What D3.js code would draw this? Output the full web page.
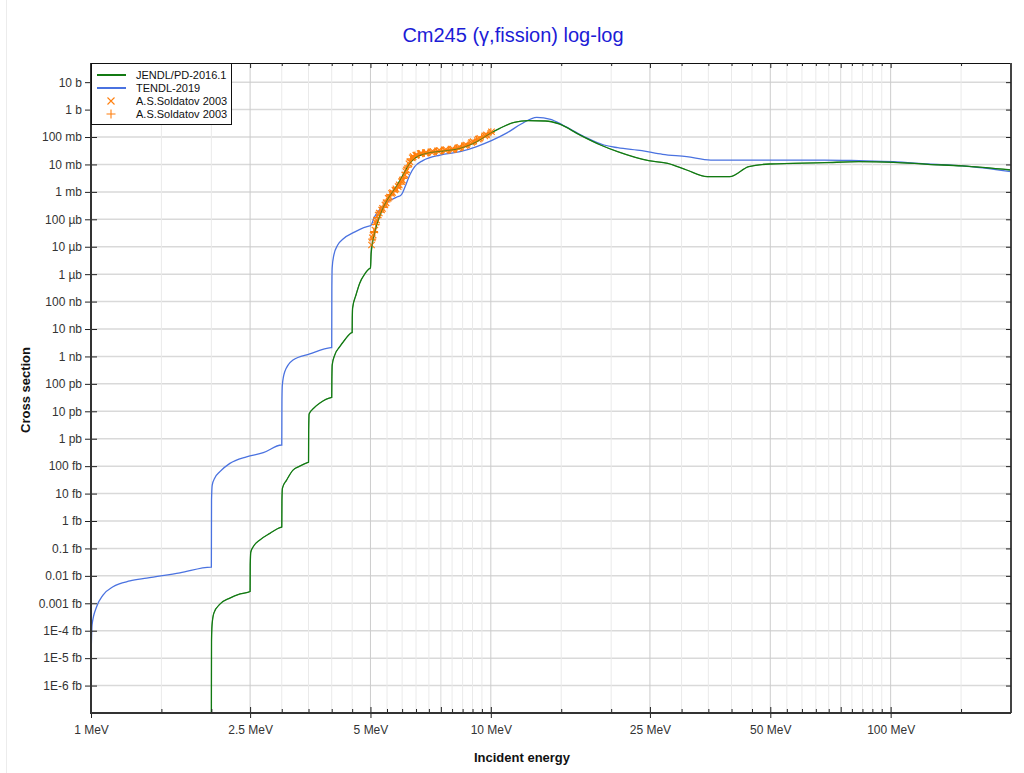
<!DOCTYPE html>
<html><head><meta charset="utf-8">
<script src="https://cdn.jsdelivr.net/npm/d3@7"></script>
<style>
body{margin:0;background:#fff}
svg{display:block;font-family:"Liberation Sans",Arial,Helvetica,sans-serif}
</style>
</head><body>
<svg id="chart" width="1024" height="773"></svg>
<script>
// ---------- data (energy in MeV, cross section in barns) ----------
const jendlE = [2.0, 2.0005, 2.002, 2.008, 2.03, 2.101, 2.225, 2.36, 2.5,
  2.502, 2.51, 2.545, 2.645, 2.802, 2.984, 3.0,
  3.003, 3.012, 3.085, 3.2, 3.327, 3.49, 3.5,
  3.503, 3.512, 3.61, 3.737, 3.981, 4.0,
  4.003, 4.012, 4.07, 4.19, 4.31, 4.48, 4.5,
  4.503, 4.512, 4.6, 4.7, 4.84, 4.98, 5.0,
  5.02, 5.12, 5.265, 5.42, 5.57, 5.8, 6.03, 6.27, 6.45, 6.91, 7.6, 8.38, 9.22, 10.0,
  10.53, 11.45, 12.4, 13.69, 14.82, 16.69, 18.81, 20.76, 24.83, 27.69, 30.89,
  34.8, 39.58, 44.16, 49.77, 68.3, 83.3, 101.6, 124, 151.2, 200];
const jendlXS = [1e-24, 2.95e-22, 4.57e-20, 1.62e-19, 4.47e-19, 9.3e-19, 1.55e-18, 2.19e-18, 2.69e-18,
  2.5e-17, 7.4e-17, 1.15e-16, 2.04e-16, 3.55e-16, 5.9e-16, 6.0e-16,
  5.9e-15, 1.58e-14, 3.1e-14, 7.2e-14, 1.0e-13, 1.38e-13, 1.4e-13,
  2.09e-12, 7.9e-12, 1.32e-11, 2.0e-11, 3.16e-11, 3.2e-11,
  1.38e-10, 4.9e-10, 1.12e-9, 2.26e-9, 3.98e-9, 7.3e-9, 7.4e-9,
  2.5e-8, 5.9e-8, 1.74e-7, 4.7e-7, 1.02e-6, 1.62e-6, 1.66e-6,
  5.75e-6, 3.1e-5, 1.245e-4, 3.33e-4, 6.67e-4, 1.55e-3, 4.12e-3, 1.1e-2, 1.67e-2, 2.55e-2, 3.09e-2, 3.88e-2, 6.76e-2, 0.14,
  0.208, 0.344, 0.394, 0.384, 0.299, 0.119, 0.0512, 0.0292, 0.0137, 0.011, 0.00628,
  0.00357, 0.00357, 0.00828, 0.0104, 0.0116, 0.0126, 0.012, 0.0101, 0.0088, 0.00628];

const tendlE = [1.0, 1.006, 1.0334, 1.0715, 1.135, 1.2515, 1.378, 1.669, 1.995, 2.0,
  2.002, 2.01, 2.04, 2.101, 2.225, 2.449, 2.697, 2.997, 3.0,
  3.003, 3.01, 3.05, 3.2, 3.525, 3.98, 4.0,
  4.003, 4.01, 4.05, 4.14, 4.27, 4.57, 4.98, 5.0,
  5.12, 5.265, 5.53, 5.8, 5.97, 6.15, 6.27, 6.45, 6.76, 7.47, 8.38, 9.22, 10.0,
  11.0, 11.91, 13.03, 14.11, 15.12, 17.02, 19.18, 20.76, 23.87, 26.89, 30.89, 35.48,
  45.9, 68.3, 83.3, 101.6, 124, 151.2, 200];
const tendlXS = [8.5e-21, 1.62e-19, 7.6e-19, 2.0e-18, 4.0e-18, 6.5e-18, 8.3e-18, 1.29e-17, 2.1e-17, 2.1e-17,
  5.9e-15, 2.04e-14, 3.7e-14, 6.3e-14, 1.26e-13, 2.19e-13, 3.1e-13, 5.9e-13, 5.9e-13,
  2.57e-11, 9.1e-11, 2.69e-10, 7.4e-10, 1.23e-9, 2.09e-9, 2.1e-9,
  2.63e-7, 1.66e-6, 5.0e-6, 1.15e-5, 1.9e-5, 3.47e-5, 5.75e-5, 5.8e-5,
  1.245e-4, 2.19e-4, 4.37e-4, 6.3e-4, 7.8e-4, 2.04e-3, 4.12e-3, 8.3e-3, 1.38e-2, 2.21e-2, 2.92e-2, 4.5e-2, 7.2e-2,
  0.144, 0.299, 0.524, 0.443, 0.274, 0.109, 0.0512, 0.0408, 0.0317, 0.0234, 0.0192, 0.0145,
  0.0145, 0.0145, 0.0137, 0.0126, 0.0104, 0.0088, 0.00545];

const sold1E = [5.031, 5.078, 5.129, 5.179, 5.227, 5.331, 5.433, 5.537, 5.646, 5.754, 5.865, 5.981,
  6.095, 6.155, 6.273, 6.394, 6.52, 6.711, 6.907, 7.174, 7.457, 7.751, 8.051, 8.366, 8.695, 9.032, 9.386, 9.755, 10.04,
  5.055, 5.16, 5.26, 5.36, 5.47, 5.58, 5.68, 5.79, 5.90, 6.01, 6.13, 6.24, 6.36, 6.49, 6.66, 6.86, 7.1,
  7.38, 7.68, 7.98, 8.29, 8.61, 8.95, 9.3, 9.66];
const sold1XS = [1.16e-5, 2.68e-5, 4.07e-5, 9.4e-5, 1.44e-4, 2.18e-4, 3.33e-4, 5.83e-4, 8.87e-4, 1.17e-3, 1.55e-3, 2.35e-3,
  4.12e-3, 6.28e-3, 1.26e-2, 1.92e-2, 2.21e-2, 2.55e-2, 2.68e-2, 2.92e-2, 3.17e-2, 3.37e-2, 3.56e-2, 4.22e-2, 5.12e-2, 6.76e-2, 9.0e-2, 0.119, 0.156,
  2.1e-5, 7.8e-5, 1.7e-4, 2.5e-4, 4.0e-4, 6.5e-4, 9.5e-4, 1.3e-3, 1.8e-3, 2.7e-3, 5.5e-3, 1.05e-2, 1.75e-2, 2.15e-2, 2.5e-2, 2.65e-2, 2.85e-2,
  3.1e-2, 3.32e-2, 3.52e-2, 4.0e-2, 4.9e-2, 6.3e-2, 8.4e-2, 0.11];
const sold2E = [5.05, 5.10, 5.15, 5.20, 5.28, 5.38, 5.48, 5.59, 5.70, 5.81, 5.92, 6.04, 6.12, 6.21,
  6.33, 6.46, 6.61, 6.81, 7.04, 7.31, 7.60, 7.90, 8.21, 8.53, 8.86, 9.21, 9.57, 9.90,
  5.105, 5.30, 5.40, 5.51, 5.62, 5.72, 5.84, 5.95, 6.06, 6.19, 6.30, 6.43, 6.58, 6.76, 6.97, 7.24,
  7.53, 7.83, 8.13, 8.45, 8.78, 9.12, 9.48, 9.84, 10.0];
const sold2XS = [1.9e-5, 3.3e-5, 6.5e-5, 1.15e-4, 1.8e-4, 2.7e-4, 4.3e-4, 7.2e-4, 1.02e-3, 1.35e-3, 1.9e-3, 3.1e-3, 5.2e-3, 9.0e-3,
  1.6e-2, 2.1e-2, 2.4e-2, 2.6e-2, 2.8e-2, 3.05e-2, 3.27e-2, 3.46e-2, 3.85e-2, 4.65e-2, 5.9e-2, 7.8e-2, 0.104, 0.137,
  3.6e-5, 2.0e-4, 3.0e-4, 5.0e-4, 8.0e-4, 1.08e-3, 1.45e-3, 2.1e-3, 3.5e-3, 8.0e-3, 1.45e-2, 2.0e-2, 2.35e-2, 2.58e-2, 2.72e-2, 2.98e-2,
  3.22e-2, 3.42e-2, 3.7e-2, 4.4e-2, 5.5e-2, 7.2e-2, 9.6e-2, 0.128, 0.148];

const xMajor = [1, 2.5, 5, 10, 25, 50, 100];
const xMajorLabels = ["1 MeV", "2.5 MeV", "5 MeV", "10 MeV", "25 MeV", "50 MeV", "100 MeV"];
const xMid = [7.5, 75];
const xMinor = [1.5, 2, 3, 3.5, 4, 4.5, 5.5, 6, 6.5, 7, 8, 8.5, 9, 9.5, 15, 20, 30, 35, 40, 45,
  55, 60, 65, 70, 80, 85, 90, 95, 150];
const yTicks = [1e-21, 1e-20, 1e-19, 1e-18, 1e-17, 1e-16, 1e-15, 1e-14, 1e-13, 1e-12, 1e-11, 1e-10,
  1e-9, 1e-8, 1e-7, 1e-6, 1e-5, 1e-4, 1e-3, 1e-2, 1e-1, 1, 10];
const yTickLabels = ["1E-6 fb", "1E-5 fb", "1E-4 fb", "0.001 fb", "0.01 fb", "0.1 fb", "1 fb", "10 fb", "100 fb",
  "1 pb", "10 pb", "100 pb", "1 nb", "10 nb", "100 nb", "1 µb", "10 µb", "100 µb", "1 mb", "10 mb", "100 mb", "1 b", "10 b"];

const seriesNames = ["JENDL/PD-2016.1", "TENDL-2019", "A.S.Soldatov 2003", "A.S.Soldatov 2003"];
const seriesColors = ["#137a13", "#4a72e0", "#ff7f0e", "#ff7f0e"];

// ---------- layout ----------
const L = 91, R = 1011, T = 63, B = 713;
const svg = d3.select("#chart");
const x = d3.scaleLog().domain([1, 200]).range([L, R]);
const y = d3.scaleLog().domain([1e-22, 50]).range([B, T]);

// outer faint border
svg.append("line").attr("x1", 6.5).attr("x2", 6.5).attr("y1", 0).attr("y2", 773)
  .attr("stroke", "#ececec").attr("stroke-width", 1);

// title
svg.append("text").attr("x", 513).attr("y", 42).attr("text-anchor", "middle")
  .attr("font-size", 20).attr("fill", "#1c1cd6").text("Cm245 (γ,fission) log-log");

// grid
const grid = svg.append("g");
grid.selectAll(".hg").data(yTicks).join("line")
  .attr("x1", L).attr("x2", R).attr("y1", d => y(d)).attr("y2", d => y(d))
  .attr("stroke", "#d9d9d9").attr("stroke-width", 1.5);
grid.selectAll(".vmin").data(xMinor).join("line")
  .attr("y1", T).attr("y2", B).attr("x1", d => x(d)).attr("x2", d => x(d))
  .attr("stroke", "#eaeaea").attr("stroke-width", 1);
grid.selectAll(".vmid").data(xMid).join("line")
  .attr("y1", T).attr("y2", B).attr("x1", d => x(d)).attr("x2", d => x(d))
  .attr("stroke", "#dadada").attr("stroke-width", 1);
grid.selectAll(".vmaj").data(xMajor.slice(1)).join("line")
  .attr("y1", T).attr("y2", B).attr("x1", d => x(d)).attr("x2", d => x(d))
  .attr("stroke", "#cccccc").attr("stroke-width", 1);

// clip
svg.append("clipPath").attr("id", "clip").append("rect")
  .attr("x", L).attr("y", T).attr("width", R - L).attr("height", B - T);
const plot = svg.append("g").attr("clip-path", "url(#clip)");

const line = d3.line().x(d => x(d[0])).y(d => y(d[1])).curve(d3.curveMonotoneX);
plot.append("path").datum(d3.zip(tendlE, tendlXS)).attr("d", line)
  .attr("fill", "none").attr("stroke", seriesColors[1]).attr("stroke-width", 1.3);
plot.append("path").datum(d3.zip(jendlE, jendlXS)).attr("d", line)
  .attr("fill", "none").attr("stroke", seriesColors[0]).attr("stroke-width", 1.3);

const cross = s => `M${-s},${-s}L${s},${s}M${-s},${s}L${s},${-s}`;
const plus = s => `M${-s},0L${s},0M0,${-s}L0,${s}`;
plot.selectAll(".m1").data(d3.zip(sold1E, sold1XS)).join("path")
  .attr("transform", d => `translate(${x(d[0])},${y(d[1])})`)
  .attr("d", cross(3.2)).attr("stroke", seriesColors[2]).attr("stroke-width", 1.1).attr("fill", "none");
plot.selectAll(".m2").data(d3.zip(sold2E, sold2XS)).join("path")
  .attr("transform", d => `translate(${x(d[0])},${y(d[1])})`)
  .attr("d", plus(4)).attr("stroke", seriesColors[3]).attr("stroke-width", 1.1).attr("fill", "none");
// jendl line visible through markers
plot.append("path").datum(d3.zip(jendlE, jendlXS)).attr("d", line)
  .attr("fill", "none").attr("stroke", seriesColors[0]).attr("stroke-width", 1.0).attr("opacity", 0.6);

// frame
svg.append("line").attr("x1", L).attr("x2", R).attr("y1", T + 0.5).attr("y2", T + 0.5).attr("stroke", "#111").attr("stroke-width", 1);
svg.append("line").attr("x1", R).attr("x2", R).attr("y1", T).attr("y2", B).attr("stroke", "#444").attr("stroke-width", 2);

// axes
const fontAx = "12px";
const xAxis = svg.append("g").attr("transform", `translate(0,${B})`)
  .call(d3.axisBottom(x).tickValues(xMajor).tickFormat((d, i) => xMajorLabels[i]).tickSize(5).tickPadding(7));
xAxis.select(".domain").remove();
xAxis.selectAll("text").attr("font-size", fontAx).attr("fill", "#333").style("font-family", "Liberation Sans, Arial, sans-serif");
xAxis.selectAll("line").attr("stroke", "#222");
const xIn = svg.append("g").attr("transform", `translate(0,${B})`)
  .call(d3.axisBottom(x).tickValues(xMajor.concat(xMid)).tickFormat("").tickSize(-6));
xIn.select(".domain").remove(); xIn.selectAll("line").attr("stroke", "#222");
const xInMin = svg.append("g").attr("transform", `translate(0,${B})`)
  .call(d3.axisBottom(x).tickValues(xMinor).tickFormat("").tickSize(-4));
xInMin.select(".domain").remove(); xInMin.selectAll("line").attr("stroke", "#222");
const xTop = svg.append("g").attr("transform", `translate(0,${T})`)
  .call(d3.axisTop(x).tickValues(xMajor.concat(xMid)).tickFormat("").tickSize(-5));
xTop.select(".domain").remove(); xTop.selectAll("line").attr("stroke", "#222");
const xTopMin = svg.append("g").attr("transform", `translate(0,${T})`)
  .call(d3.axisTop(x).tickValues(xMinor).tickFormat("").tickSize(-3));
xTopMin.select(".domain").remove(); xTopMin.selectAll("line").attr("stroke", "#222");

const yAxis = svg.append("g").attr("transform", `translate(${L},0)`)
  .call(d3.axisLeft(y).tickValues(yTicks).tickFormat((d, i) => yTickLabels[i]).tickSize(6).tickPadding(3));
yAxis.select(".domain").remove();
yAxis.selectAll("text").attr("font-size", fontAx).attr("fill", "#333").style("font-family", "Liberation Sans, Arial, sans-serif");
yAxis.selectAll("line").attr("stroke", "#222");
const yIn = svg.append("g").attr("transform", `translate(${L},0)`)
  .call(d3.axisLeft(y).tickValues(yTicks).tickFormat("").tickSize(-6));
yIn.select(".domain").remove(); yIn.selectAll("line").attr("stroke", "#222");
const yR = svg.append("g").attr("transform", `translate(${R},0)`)
  .call(d3.axisRight(y).tickValues(yTicks).tickFormat("").tickSize(-5));
yR.select(".domain").remove(); yR.selectAll("line").attr("stroke", "#222");

svg.append("line").attr("x1", L).attr("x2", L).attr("y1", T).attr("y2", B + 1).attr("stroke", "#333").attr("stroke-width", 2);
svg.append("line").attr("x1", L - 1).attr("x2", R).attr("y1", B).attr("y2", B).attr("stroke", "#333").attr("stroke-width", 2);

// axis titles
svg.append("text").attr("x", 522).attr("y", 762).attr("text-anchor", "middle")
  .attr("font-size", 13).attr("font-weight", "bold").attr("fill", "#111").text("Incident energy");
svg.append("text").attr("transform", "translate(30,390) rotate(-90)").attr("text-anchor", "middle")
  .attr("font-size", 13).attr("font-weight", "bold").attr("fill", "#111").text("Cross section");

// legend
const lg = svg.append("g");
lg.append("rect").attr("x", 91.5).attr("y", 63.5).attr("width", 140).attr("height", 61)
  .attr("fill", "#fff").attr("stroke", "#111").attr("stroke-width", 1);
const rows = [75, 88, 101, 114];
seriesNames.forEach((n, i) => {
  const yy = rows[i];
  if (i < 2) {
    lg.append("line").attr("x1", 97).attr("x2", 126).attr("y1", yy).attr("y2", yy)
      .attr("stroke", seriesColors[i]).attr("stroke-width", 2);
  } else {
    lg.append("path").attr("transform", `translate(111,${yy})`).attr("d", i === 2 ? cross(3.5) : plus(4.5))
      .attr("stroke", seriesColors[i]).attr("stroke-width", 1.1).attr("fill", "none");
  }
  lg.append("text").attr("x", 136).attr("y", yy + 4).attr("font-size", 11).attr("fill", "#111").text(n);
});
</script>
</body></html>
